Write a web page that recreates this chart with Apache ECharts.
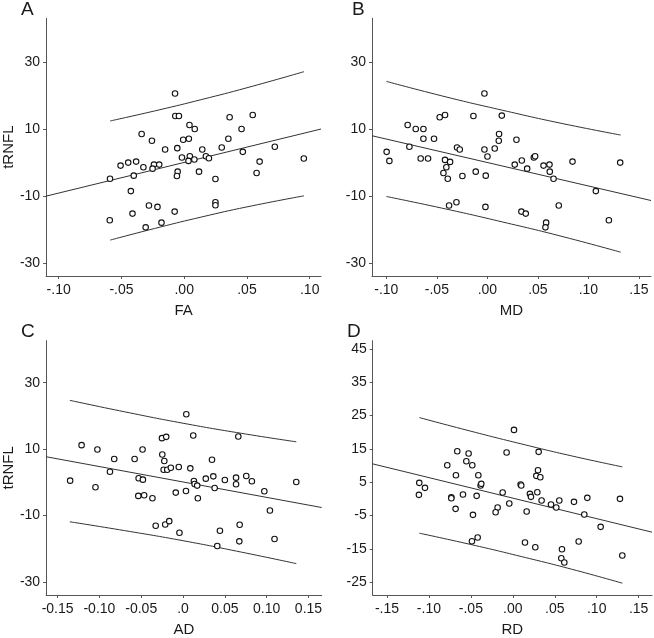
<!DOCTYPE html>
<html><head><meta charset="utf-8">
<script src="https://cdn.jsdelivr.net/npm/echarts@6/dist/echarts.min.js"></script>
<style>html,body{margin:0;padding:0;background:#fff}#c{width:654px;height:638px}</style>
</head><body><div id="c"></div>
<script>
// ---- Panel A: FA ----
const faX = [-0.0073,-0.0071,-0.0042,0.0362,0.0546,0.0042,0.0084,0.0457,-0.0339,-0.0008,0.0037,0.0352,-0.0257,-0.0152,-0.0055,0.0144,0.0299,0.0467,0.0722,-0.0018,0.0045,0.0173,0.0197,0.0034,0.0081,0.0953,-0.0507,-0.0446,-0.0383,-0.0325,-0.0241,-0.0199,-0.0252,0.0601,-0.0591,-0.0402,-0.0052,-0.0058,0.0118,0.0249,0.0577,-0.0425,-0.0281,-0.0213,0.0249,0.0249,-0.0412,-0.0076,-0.0593,-0.0181,-0.0307];
const faY = [20.6,13.9,13.9,13.5,14.2,11.2,10,10,8.5,6.8,7.1,7.1,6.5,3.9,4.3,3.9,4.5,3.2,4.7,1.5,1.9,1.9,1.3,0.5,0.9,1.2,-0.9,0,0.3,-1.4,-0.6,-0.6,-1.8,0.3,-4.8,-3.9,-2.7,-4,-2.7,-4.9,-3.1,-8.5,-12.8,-13.2,-11.8,-12.7,-15.2,-14.6,-17.2,-17.9,-19.3];
const faFitX = [-0.110, 0.109];
const faFitY = [-10.0, 10.0];
const faBandX = [-0.059, -0.02, 0.014, 0.05, 0.0955];
const faUpper = [12.4, 15.7, 18.8, 22.3, 27.1];
const faLower = [-23.1, -19.3, -16.2, -13.2, -9.9];

// ---- Panel B: MD ----
const mdX = [-0.0029,-0.0472,-0.0419,-0.0138,0.0143,-0.0789,-0.0709,-0.0633,-0.0633,-0.0528,0.0116,0.0113,0.0288,-0.0772,-0.03,-0.0273,-0.0029,0.0073,-0.0997,-0.097,-0.066,-0.0587,-0.0419,-0.0369,0.0001,0.0341,0.046,0.0473,0.0271,0.0556,0.0615,0.0843,0.1315,-0.0406,-0.0435,-0.0392,-0.0247,-0.0115,-0.0016,0.0394,0.0618,0.0655,0.1074,-0.0379,-0.0306,-0.0019,0.0337,0.038,0.0707,0.0582,0.0575,0.1203];
const mdY = [20.6,13.5,14.2,13.9,14,11.2,10,10,7.1,7.1,8.5,6.5,6.8,4.7,4.5,3.9,3.9,4.2,3.2,0.5,1.2,1.2,0.8,0.2,1.8,0.6,1.5,1.9,-0.6,-0.9,-0.6,0.3,0,-1.4,-3.1,-4.8,-4,-2.7,-3.9,-1.8,-2.7,-4.8,-8.5,-12.8,-11.8,-13.2,-14.6,-15.2,-12.8,-17.9,-19.3,-17.2];
const mdFitX = [-0.1142, 0.162];
const mdFitY = [8.0, -11.3];
const mdBandX = [-0.1, -0.04, 0.015, 0.07, 0.132];
const mdUpper = [24.2, 19.5, 15.6, 11.9, 8.2];
const mdLower = [-10.1, -13.9, -17.7, -21.7, -26.7];

// ---- Panel C: AD ----
const adX = [0.0039,-0.0252,-0.0201,0.0122,0.0661,-0.1213,-0.1024,-0.0484,-0.0248,-0.0823,-0.0579,-0.0224,0.0346,-0.0232,-0.0189,-0.0146,-0.0051,0.0087,-0.0874,-0.135,-0.0531,-0.048,0.0272,0.0362,0.05,0.0634,0.0756,0.013,0.0823,0.1354,0.0138,0.0169,0.0634,-0.1047,0.0035,-0.0087,0.0378,0.0972,-0.0535,-0.0465,-0.0366,0.0177,0.1039,-0.0327,-0.0213,-0.0165,-0.0043,0.0441,0.0677,0.0673,0.1094,0.0409];
const adY = [20.5,13.3,13.7,14.1,13.8,11.2,9.9,9.9,8.4,7,7,6.4,6.8,3.8,3.8,4.4,4.6,4.2,3.2,0.5,1.2,0.8,1.1,1.8,0.7,1.4,1.9,0.4,0.3,0.1,-0.5,-1,-0.6,-1.5,-2.6,-3.1,-1.7,-2.7,-4.1,-3.9,-4.8,-4.8,-8.5,-13.1,-12.7,-11.7,-15.2,-14.6,-12.8,-17.8,-17.1,-19.2];
const adFitX = [-0.1637, 0.1658];
const adFitY = [7.7, -7.6];
const adBandX = [-0.1354, -0.07, 0, 0.07, 0.1354];
const adUpper = [24.7, 21.25, 17.8, 14.75, 12.2];
const adLower = [-11.9, -14.55, -17.6, -21.05, -24.5];

// ---- Panel D: RD ----
const rdX = [0.0014,-0.0662,-0.0527,-0.0074,0.0308,-0.0554,-0.0781,-0.0483,-0.0678,-0.0411,0.03,0.028,0.0328,-0.0384,-0.0376,0.0093,0.0101,-0.1115,-0.1047,-0.1119,-0.0733,-0.0733,-0.0594,-0.0431,-0.0121,0.0204,0.0216,0.0292,0.0343,0.0554,0.0729,0.0888,0.1277,-0.0682,-0.0042,-0.0181,-0.0205,0.0165,0.0455,0.0518,-0.0475,0.0852,0.1047,-0.0487,-0.0419,0.0145,0.0268,0.0785,0.0586,0.0578,0.0614,0.1305];
const rdY = [20.7,14.3,13.6,13.9,14.1,11.3,10.1,10.1,7.1,7.1,8.6,6.9,6.5,4,4.5,4.3,4,4.8,3.3,1.2,0.5,0.2,1.3,0.9,1.9,1.5,0.6,2,-0.5,-0.5,-0.9,0.3,0,-3,-1.4,-2.6,-4,-3.8,-1.7,-2.6,-4.8,-4.7,-8.4,-12.7,-11.6,-13.1,-14.5,-12.8,-15.1,-17.8,-19.1,-17];
const rdFitX = [-0.167, 0.1659];
const rdFitY = [10.5, -10.0];
const rdBandX = [-0.1115, -0.05, 0.01, 0.07, 0.1305];
const rdUpper = [24.4, 20.3, 16.5, 12.9, 9.6];
const rdLower = [-10.3, -13.7, -17.3, -21.1, -25.3];

// ---- tick labels ----
const yTicksABC = [-30, -10, 10, 30];
const yTicksD = [-25, -15, -5, 5, 15, 25, 35, 45];
const xTicksA = [-0.1, -0.05, 0, 0.05, 0.1];
const xLabelsA = ['-.10', '-.05', '.00', '.05', '.10'];
const xTicksB = [-0.1, -0.05, 0, 0.05, 0.1, 0.15];
const xLabelsB = ['-.10', '-.05', '.00', '.05', '.10', '.15'];
const xTicksC = [-0.15, -0.1, -0.05, 0, 0.05, 0.1, 0.15];
const xLabelsC = ['-0.15', '-0.10', '-0.05', '.0', '0.05', '0.10', '0.15'];
const xTicksD = [-0.15, -0.1, -0.05, 0, 0.05, 0.1, 0.15];
const xLabelsD = ['-.15', '-.10', '-.05', '.00', '.05', '.10', '.15'];

const panels = [
  {letter:'A', xName:'FA', yName:'tRNFL', x:faX, y:faY, fitX:faFitX, fitY:faFitY, bandX:faBandX, up:faUpper, lo:faLower,
   xTicks:xTicksA, xLabels:xLabelsA, yTicks:yTicksABC, xMin:-0.110, xMax:0.109, yMin:-33.8, yMax:43.0,
   grid:{left:42.7, top:18.3, width:278.3, height:257.7}, lpos:[21,0]},
  {letter:'B', xName:'MD', yName:'', x:mdX, y:mdY, fitX:mdFitX, fitY:mdFitY, bandX:mdBandX, up:mdUpper, lo:mdLower,
   xTicks:xTicksB, xLabels:xLabelsB, yTicks:yTicksABC, xMin:-0.1142, xMax:0.162, yMin:-33.8, yMax:43.0,
   grid:{left:372, top:18.3, width:279, height:257.7}, lpos:[352,0]},
  {letter:'C', xName:'AD', yName:'tRNFL', x:adX, y:adY, fitX:adFitX, fitY:adFitY, bandX:adBandX, up:adUpper, lo:adLower,
   xTicks:xTicksC, xLabels:xLabelsC, yTicks:yTicksABC, xMin:-0.1637, xMax:0.1658, yMin:-33.96, yMax:42.67,
   grid:{left:42.7, top:340.7, width:279, height:257.6}, lpos:[21,322]},
  {letter:'D', xName:'RD', yName:'', x:rdX, y:rdY, fitX:rdFitX, fitY:rdFitY, bandX:rdBandX, up:rdUpper, lo:rdLower,
   xTicks:xTicksD, xLabels:xLabelsD, yTicks:yTicksD, xMin:-0.167, xMax:0.1659, yMin:-28.85, yMax:47.46,
   grid:{left:372.7, top:340.7, width:279.3, height:257.6}, lpos:[347,322]}
];

const FONT = 'Liberation Sans, Arial, sans-serif';
const AX = '#555';
const TXT = '#1a1a1a';
const zip = (a, b) => a.map((v, i) => [v, b[i]]);
const fmt = (ticks, labels) => (v) => {
  const i = ticks.findIndex(t => Math.abs(t - v) < 1e-9);
  return i >= 0 ? (labels ? labels[i] : String(ticks[i])) : '';
};

const option = {
  animation: false,
  backgroundColor: '#fff',
  grid: [], xAxis: [], yAxis: [], series: [], graphic: []
};

panels.forEach((p, k) => {
  option.grid.push(Object.assign({containLabel:false}, p.grid));
  option.xAxis.push({
    type:'value', gridIndex:k, min:p.xMin, max:p.xMax,
    name:p.xName, nameLocation:'middle', nameGap:27,
    nameTextStyle:{fontFamily:FONT, fontSize:15, color:TXT},
    axisLine:{show:true, onZero:false, lineStyle:{color:AX, width:1}},
    axisTick:{show:true, length:3, lineStyle:{color:AX}, customValues:p.xTicks},
    axisLabel:{fontFamily:FONT, fontSize:14, color:TXT, margin:7, customValues:p.xTicks, formatter:fmt(p.xTicks, p.xLabels)},
    splitLine:{show:false}
  });
  option.yAxis.push({
    type:'value', gridIndex:k, min:p.yMin, max:p.yMax,
    name:p.yName, nameLocation:'middle', nameGap:29, nameRotate:90,
    nameTextStyle:{fontFamily:FONT, fontSize:15, color:TXT},
    axisLine:{show:true, onZero:false, lineStyle:{color:AX, width:1}},
    axisTick:{show:true, length:3, lineStyle:{color:AX}, customValues:p.yTicks},
    axisLabel:{fontFamily:FONT, fontSize:14, color:TXT, margin:6, customValues:p.yTicks, formatter:fmt(p.yTicks, null)},
    splitLine:{show:false}
  });
  const lineBase = {type:'line', xAxisIndex:k, yAxisIndex:k, symbol:'none', silent:true,
    lineStyle:{color:'#333', width:1}, z:2};
  option.series.push(Object.assign({}, lineBase, {data: zip(p.fitX, p.fitY)}));
  option.series.push(Object.assign({}, lineBase, {data: zip(p.bandX, p.up), smooth:true}));
  option.series.push(Object.assign({}, lineBase, {data: zip(p.bandX, p.lo), smooth:true}));
  option.series.push({
    type:'scatter', xAxisIndex:k, yAxisIndex:k, data: zip(p.x, p.y),
    symbol:'circle', symbolSize:5.5, z:3,
    itemStyle:{color:'#fff', borderColor:'#111', borderWidth:1.1, opacity:1}
  });
  option.graphic.push({
    type:'text', left:p.lpos[0], top:p.lpos[1],
    style:{text:p.letter, fontFamily:FONT, fontSize:19, fill:TXT}
  });
});

const chart = echarts.init(document.getElementById('c'), null, {renderer:'canvas'});
chart.setOption(option);
</script>
</body></html>
